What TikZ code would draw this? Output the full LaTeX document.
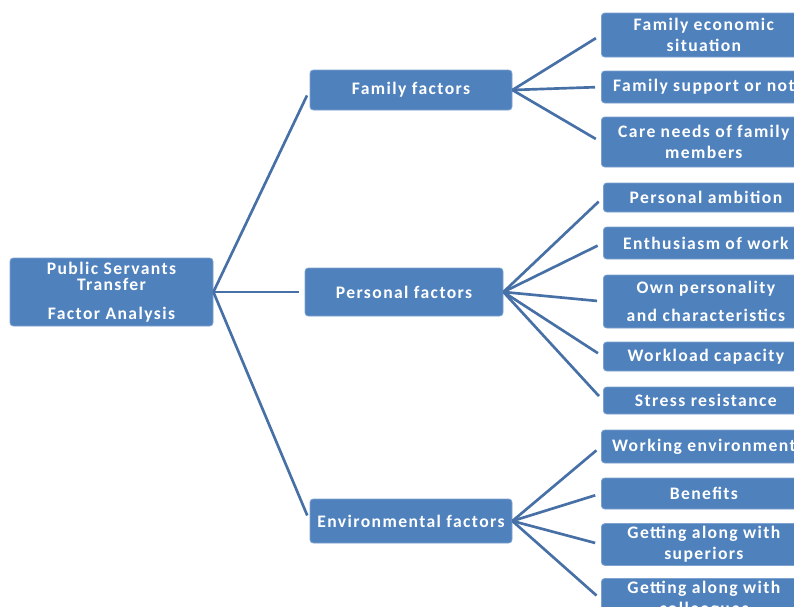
\documentclass[tikz,border=0pt]{standalone}
\usepackage{fontspec}
\setmainfont{Carlito}[LetterSpace=8]
\usetikzlibrary{positioning}
\definecolor{boxblue}{RGB}{79,129,189}
\definecolor{boxedge}{RGB}{125,162,208}
\definecolor{linkblue}{RGB}{70,112,166}
\tikzset{
    factor/.style={draw=boxedge, fill=boxblue, rounded corners=2.5pt, line width=0.6pt,
        text=white, font=\bfseries\fontsize{13.2}{16}\selectfont, align=center, inner sep=2pt},
    mainbox/.style={factor, minimum width=151.5pt},
    leaf/.style={factor, anchor=west, minimum width=153.75pt},
    link/.style={draw=linkblue, line width=2pt, shorten >=4.5pt}
}

\begin{document}
\begin{tikzpicture}[x=0.75pt, y=-0.75pt]
    \useasboundingbox (0,0) rectangle (794,607);
    % Root
    \node[factor, minimum width=152.25pt, minimum height=51pt,
        font=\bfseries\fontsize{13.2}{12}\selectfont] (root) at (111.5,292)
        {Public Servants\\Transfer\\[10pt]Factor Analysis};
    % Second level
    \node[mainbox, minimum height=30pt] (family) at (411,90) {Family factors};
    \node[mainbox, minimum width=148.5pt, minimum height=36pt] (personal) at (404,292) {Personal factors};
    \node[mainbox, minimum height=33pt] (environ) at (411,521) {Environmental factors};
    % Family leaves
    \node[leaf, minimum height=33pt] (fam1) at (601,35) {Family economic\\situation};
    \node[leaf, minimum height=24pt] (fam2) at (601,87) {Family support or not};
    \node[leaf, minimum height=37.5pt] (fam3) at (601,142) {Care needs of family\\members};
    % Personal leaves
    \node[leaf, minimum height=21.75pt] (per1) at (603,197.5) {Personal ambition};
    \node[leaf, minimum height=24pt] (per2) at (603,243) {Enthusiasm of work};
    \node[leaf, minimum height=39.75pt] (per3) at (603,301.5) {Own personality\\[5pt]and characteristics};
    \node[leaf, minimum height=21.75pt] (per4) at (603,356.5) {Workload capacity};
    \node[leaf, minimum height=20.25pt] (per5) at (603,400.5) {Stress resistance};
    % Environmental leaves
    \node[leaf, minimum height=24.75pt] (env1) at (601,446.5) {Working environment};
    \node[leaf, minimum height=23.25pt] (env2) at (601,493.5) {Benefits};
    \node[leaf, minimum height=29.25pt] (env3) at (601,544.5) {Getting along with\\superiors};
    \node[leaf, minimum height=29.25pt] (env4) at (601,599.5) {Getting along with\\colleagues};
    % Connectors
    \foreach \b in {family, personal, environ}
        \draw[link] (root.east) -- (\b.west);
    \foreach \b in {fam1, fam2, fam3}
        \draw[link] (family.east) -- (\b.west);
    \foreach \b in {per1, per2, per3, per4, per5}
        \draw[link] (personal.east) -- (\b.west);
    \foreach \b in {env1, env2, env3, env4}
        \draw[link] (environ.east) -- (\b.west);
\end{tikzpicture}
\end{document}
